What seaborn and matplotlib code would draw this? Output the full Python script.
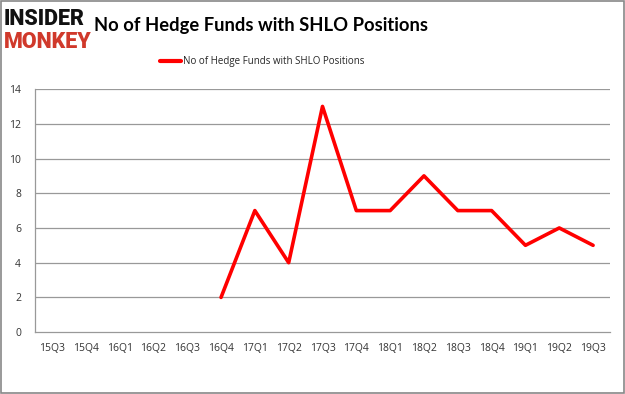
import matplotlib
matplotlib.use("Agg")
import matplotlib.pyplot as plt
import numpy as np
import pandas as pd
import seaborn as sns

QUARTERS = ["15Q3", "15Q4", "16Q1", "16Q2", "16Q3", "16Q4", "17Q1", "17Q2", "17Q3",
            "17Q4", "18Q1", "18Q2", "18Q3", "18Q4", "19Q1", "19Q2", "19Q3"]
FUNDS = [np.nan, np.nan, np.nan, np.nan, np.nan, 2, 7, 4, 13, 7, 7, 9, 7, 7, 5, 6, 5]
SERIES_NAME = "No of Hedge Funds with SHLO Positions"
Y_TICKS = [0, 2, 4, 6, 8, 10, 12, 14]


def main() -> None:
    sns.set_theme(style="white")
    plt.rcParams["font.family"] = ["Open Sans", "DejaVu Sans"]

    df = pd.DataFrame({"Quarter": QUARTERS, "Funds": FUNDS})
    df["pos"] = np.arange(len(df)) + 0.5

    fig = plt.figure(figsize=(6.25, 3.94), dpi=100)
    ax = fig.add_axes([0.056, 0.157, 0.92, 0.617])

    sns.lineplot(data=df.dropna(), x="pos", y="Funds", color="#ff0000", linewidth=2.6,
                 ax=ax, label=SERIES_NAME, legend=False)

    ax.set_xlim(0, len(QUARTERS))
    ax.set_ylim(0, 14)
    ax.set_yticks(Y_TICKS)
    ax.set_yticklabels([str(v) for v in Y_TICKS], fontsize=7.5, color="#333333")
    ax.set_xticks(np.arange(len(QUARTERS) + 1))
    ax.set_xticklabels([])
    ax.set_xticks(df["pos"], minor=True)
    ax.set_xticklabels(QUARTERS, minor=True, fontsize=7.5, color="#333333")
    ax.tick_params(axis="x", which="major", length=4, color="#999999", width=1, direction="out")
    ax.tick_params(axis="x", which="minor", length=0, pad=8)
    ax.tick_params(axis="y", length=4, color="#999999", width=1, direction="out", pad=6)
    ax.set_xlabel("")
    ax.set_ylabel("")
    for v in Y_TICKS[1:]:
        ax.axhline(v, color="#999999", linewidth=0.9, zorder=0)
    for side in ["top", "right"]:
        ax.spines[side].set_visible(False)
    for side in ["left", "bottom"]:
        ax.spines[side].set_color("#999999")
        ax.spines[side].set_linewidth(0.9)

    leg = fig.legend(loc="center", bbox_to_anchor=(0.42, 0.843), frameon=False,
                     fontsize=7, handlelength=2.2, handletextpad=0.2)
    for line in leg.get_lines():
        line.set_linewidth(3)

    fig.text(0.418, 0.935, "No of Hedge Funds with SHLO Positions", ha="center", va="center",
             fontsize=13.2, fontweight="bold", color="#000000", family=["Lato", "DejaVu Sans"])
    fig.text(0.006, 0.952, "INSIDER", ha="left", va="center", fontsize=15.5,
             fontweight="black", color="#111111", family=["Roboto", "DejaVu Sans"])
    fig.text(0.006, 0.893, "MONKEY", ha="left", va="center", fontsize=15.5,
             fontweight="black", color="#d0392b", family=["Roboto", "DejaVu Sans"])

    fig.patches.append(plt.Rectangle((0.001, 0.002), 0.997, 0.995, transform=fig.transFigure,
                                     fill=False, edgecolor="#888888", linewidth=1.2))
    fig.savefig("out.png", dpi=100)


if __name__ == "__main__":
    main()
